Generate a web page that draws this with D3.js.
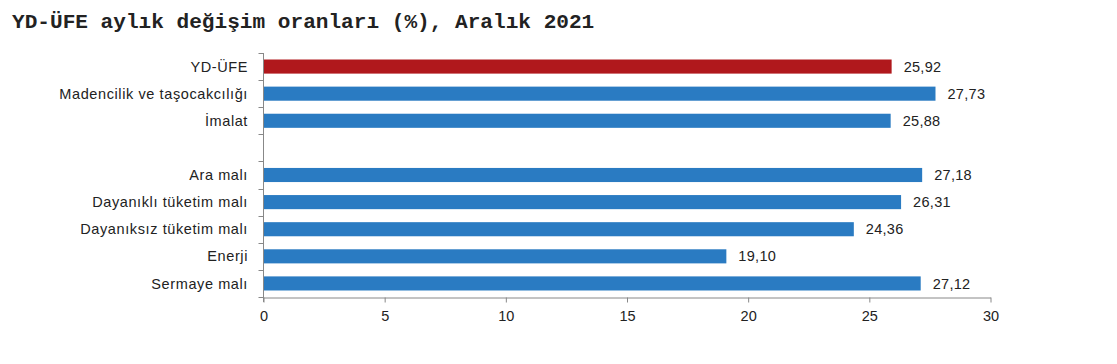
<!DOCTYPE html>
<html><head><meta charset="utf-8">
<script src="https://cdn.jsdelivr.net/npm/d3@7"></script>
<style>body{margin:0;background:#fff;}svg{display:block;}</style>
</head><body>
<script>
const categories = ["YD-ÜFE","Madencilik ve taşocakcılığı","İmalat","","Ara malı","Dayanıklı tüketim malı","Dayanıksız tüketim malı","Enerji","Sermaye malı"];
const values = [25.92,27.73,25.88,null,27.18,26.31,24.36,19.10,27.12];
const xTicks = [0,5,10,15,20,25,30];
const title = "YD-ÜFE aylık değişim oranları (%), Aralık 2021";

(function(){
const W=1117,H=364;
const font="'Liberation Sans',Arial,sans-serif";
const svg=d3.select("body").append("svg").attr("width",W).attr("height",H);
svg.append("text").attr("x",12).attr("y",28).text(title)
  .attr("font-family","'Liberation Mono','Courier New',monospace").attr("font-weight","bold")
  .attr("font-size",21.1).attr("fill","#222");

const pLeft=263.5,pRight=990.5,pTop=53,pBottom=297;
const x=d3.scaleLinear().domain([0,30]).range([pLeft,pRight]);
const y=d3.scaleBand().domain(categories.map((c,i)=>i)).range([pTop,pBottom]).paddingInner(0.48).paddingOuter(0.24);
const stepY=(pBottom-pTop)/categories.length;

const g=svg.append("g");
const data=categories.map((c,i)=>({c,i,v:values[i]}));
g.selectAll("rect").data(data.filter(d=>d.v!=null)).enter().append("rect")
  .attr("x",x(0)).attr("y",d=>y(d.i)).attr("width",d=>x(d.v)-x(0)).attr("height",y.bandwidth())
  .attr("fill",d=>d.i===0?"#b0181c":"#2a7bc2");
g.selectAll("text.val").data(data.filter(d=>d.v!=null)).enter().append("text")
  .attr("x",d=>x(d.v)+12).attr("y",d=>y(d.i)+y.bandwidth()/2).attr("dy","0.35em")
  .text(d=>d3.format(".2f")(d.v).replace(".",","))
  .attr("font-family",font).attr("font-size",14.5).attr("letter-spacing",0.3).attr("fill","#222");
g.selectAll("text.cat").data(data).enter().append("text")
  .attr("x",248).attr("y",d=>y(d.i)+y.bandwidth()/2).attr("dy","0.35em").attr("text-anchor","end")
  .text(d=>d.c).attr("font-family",font).attr("font-size",14.5).attr("letter-spacing",0.6).attr("fill","#222");

const yBounds=d3.range(categories.length+1).map(i=>pTop+i*stepY);
g.append("line").attr("x1",pLeft).attr("x2",pLeft).attr("y1",pTop).attr("y2",pBottom+5).attr("stroke","#888");
g.selectAll("line.yt").data(yBounds).enter().append("line")
  .attr("x1",pLeft-5).attr("x2",pLeft).attr("y1",d=>Math.round(d)+0.5).attr("y2",d=>Math.round(d)+0.5).attr("stroke","#888");

const xa=svg.append("g").attr("transform",`translate(0,${pBottom+0.5})`)
  .call(d3.axisBottom(x).tickValues(xTicks).tickSize(5).tickSizeOuter(0).tickFormat(d3.format("d")));
xa.select(".domain").attr("stroke","#888");
xa.selectAll(".tick line").attr("stroke","#888");
xa.selectAll("text").attr("font-family",font).attr("font-size",14.5).attr("fill","#222").attr("y",10).attr("dy","0.95em");
})();
</script>
</body></html>
